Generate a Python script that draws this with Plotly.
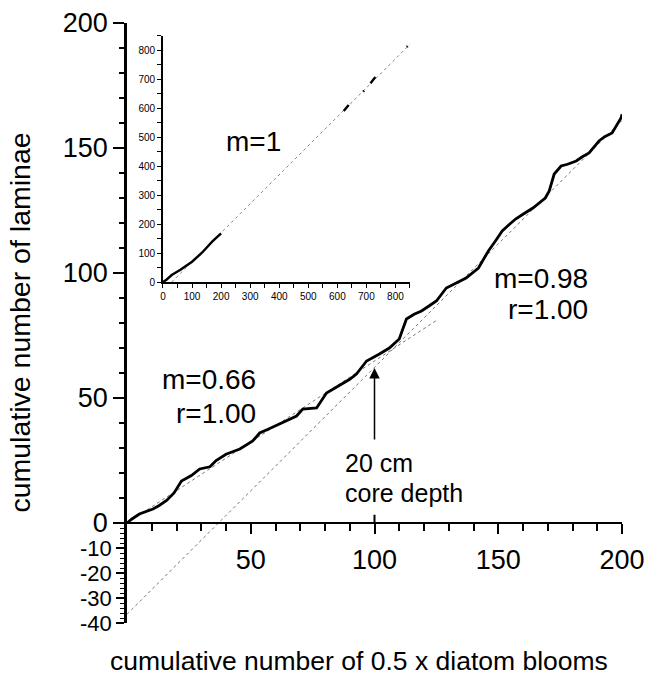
import plotly.graph_objects as go

# ---- main series: cumulative laminae vs cumulative 0.5 x diatom blooms
main_x = [0, 2, 5, 8, 10.5, 13, 16, 19, 22, 26, 29.4, 33.5, 36, 40, 45.6, 50.8, 53.6, 57,
          61.7, 65, 68.5, 71, 76.6, 80.6, 84, 87, 90, 92.7, 96.8, 102, 106, 110, 112.9,
          116, 119, 122, 125, 129, 133, 137, 142, 146, 149, 151.6, 154, 157, 160, 164,
          169, 170.6, 172.6, 175.4, 178, 181.5, 184, 186.7, 190.7, 193, 196, 197.6, 199.6, 200]
main_y = [0, 1.6, 3.6, 4.8, 5.6, 7.0, 9.0, 12.0, 16.8, 19.0, 21.6, 22.5, 25.0, 27.5, 29.6,
          32.8, 36.0, 37.5, 39.6, 41.0, 42.8, 45.6, 46.0, 52.0, 54.0, 56.0, 57.5, 59.6, 64.8,
          67.6, 70.0, 73.6, 81.6, 83.5, 84.8, 86.8, 88.8, 94.0, 96.0, 98.0, 102.0, 108.8,
          113.0, 116.8, 119.0, 121.6, 123.5, 126.0, 130.0, 132.8, 139.6, 142.8, 143.5, 144.8,
          146.5, 148.0, 152.8, 154.5, 156.0, 158.8, 162.0, 163.5]

# regression lines
fit1_x = [0, 125]
fit1_y = [0, 81]
fit2_x = [0, 200]
fit2_y = [-36.5, 161]

# ---- inset series
inset_x = [0, 12, 30, 60, 100, 135, 170, 200, None, 622, 639, None, 689, 692, None, 714, 731, None, 839, 842]
inset_y = [0, 8, 24, 42, 70, 102, 140, 168, None, 590, 611, None, 657, 660, None, 686, 707, None, 811, 814]
inset_fit_x = [30, 850]
inset_fit_y = [0, 820]

# ---- tick labels
main_xticks = [50, 100, 150, 200]
main_xminor = [10, 20, 30, 40, 60, 70, 80, 90, 110, 120, 130, 140, 160, 170, 180, 190]
main_yticks = [0, 50, 100, 150, 200]
main_yminor = [v for v in range(10, 200, 10) if v % 50 != 0]
neg_yticks = [-10, -20, -30, -40]
neg_yminor = [v for v in range(-38, 0, 2) if v % 10 != 0]
inset_ticks = [0, 100, 200, 300, 400, 500, 600, 700, 800]
inset_minor = [50, 150, 250, 350, 450, 550, 650, 750, 850]

FONT = "Liberation Sans, Arial, sans-serif"

fig = go.Figure()
fig.add_trace(go.Scatter(x=fit1_x, y=fit1_y, mode="lines",
                         line=dict(color="#777777", width=1, dash="dot"),
                         xaxis="x", yaxis="y", hoverinfo="skip"))
fig.add_trace(go.Scatter(x=fit2_x, y=fit2_y, mode="lines",
                         line=dict(color="#777777", width=1, dash="dot"),
                         xaxis="x", yaxis="y", hoverinfo="skip"))
fig.add_trace(go.Scatter(x=main_x, y=main_y, mode="lines",
                         line=dict(color="black", width=2.8),
                         xaxis="x", yaxis="y"))
fig.add_trace(go.Scatter(x=inset_fit_x, y=inset_fit_y, mode="lines",
                         line=dict(color="#888888", width=1, dash="dot"),
                         xaxis="x2", yaxis="y2", hoverinfo="skip"))
fig.add_trace(go.Scatter(x=inset_x, y=inset_y, mode="lines",
                         line=dict(color="black", width=2.4),
                         connectgaps=False, xaxis="x2", yaxis="y2"))

axis_common = dict(showgrid=False, zeroline=False, showline=True, linecolor="black",
                   tickcolor="black", ticks="outside", automargin=False)

fig.update_layout(
    template="none",
    width=650, height=677,
    margin=dict(l=127, r=28, t=23, b=54, pad=0, autoexpand=False),
    paper_bgcolor="white", plot_bgcolor="white",
    showlegend=False,
    font=dict(family=FONT, color="black"),
    xaxis=dict(**axis_common, domain=[0, 1], range=[0, 200], anchor="free", position=40 / 240,
               linewidth=2, tickwidth=2, ticklen=10, tickmode="array", tickvals=main_xticks,
               ticktext=[str(v) for v in main_xticks], tickfont=dict(size=27),
               ticklabelstandoff=3,
               minor=dict(tickmode="array", tickvals=main_xminor, ticklen=7, tickwidth=1.5,
                          tickcolor="black", ticks="outside")),
    yaxis=dict(**axis_common, domain=[0, 1], range=[-40, 200], anchor="x",
               linewidth=2.5, tickwidth=2, ticklen=11, tickmode="array", tickvals=main_yticks,
               ticktext=[str(v) for v in main_yticks], tickfont=dict(size=27),
               minor=dict(tickmode="array", tickvals=main_yminor, ticklen=5, tickwidth=1.5,
                          tickcolor="black", ticks="outside")),
    yaxis3=dict(**axis_common, domain=[0, 1], range=[-40, 200], anchor="x", overlaying="y",
                linewidth=2.5, tickwidth=1.5, ticklen=8, tickmode="array", tickvals=neg_yticks,
                ticktext=[str(v) for v in neg_yticks], tickfont=dict(size=22),
                minor=dict(tickmode="array", tickvals=neg_yminor, ticklen=4, tickwidth=1.2,
                           tickcolor="black", ticks="outside")),
    xaxis2=dict(**axis_common, domain=[0.0727, 0.5717], range=[0, 850], anchor="y2",
                linewidth=1.6, tickwidth=1.3, ticklen=4, tickmode="array", tickvals=inset_ticks,
                ticktext=[str(v) for v in inset_ticks], tickfont=dict(size=10),
                minor=dict(tickmode="array", tickvals=inset_minor, ticklen=4, tickwidth=1.3,
                           tickcolor="black", ticks="outside")),
    yaxis2=dict(**axis_common, domain=[0.5683, 0.979], range=[0, 850], anchor="x2",
                linewidth=1.6, tickwidth=1.3, ticklen=4, tickmode="array", tickvals=inset_ticks,
                ticktext=[str(v) for v in inset_ticks], tickfont=dict(size=10),
                minor=dict(tickmode="array", tickvals=inset_minor, ticklen=4, tickwidth=1.3,
                           tickcolor="black", ticks="outside")),
)

# invisible trace so the overlay y-axis with the negative labels is drawn
fig.add_trace(go.Scatter(x=[None], y=[None], xaxis="x", yaxis="y3", mode="lines",
                         hoverinfo="skip", showlegend=False))

big = dict(family=FONT, size=28, color="black")
ann = [
    dict(text="m=0.66", x=52.9, y=57.6, xref="x", yref="y", xanchor="right", yanchor="middle",
         showarrow=False, font=big),
    dict(text="r=1.00", x=52.9, y=44, xref="x", yref="y", xanchor="right", yanchor="middle",
         showarrow=False, font=big),
    dict(text="m=0.98", x=187.1, y=98, xref="x", yref="y", xanchor="right", yanchor="middle",
         showarrow=False, font=big),
    dict(text="r=1.00", x=187.1, y=85.6, xref="x", yref="y", xanchor="right", yanchor="middle",
         showarrow=False, font=big),
    dict(text="m=1", x=310, y=485, xref="x2", yref="y2", xanchor="center", yanchor="middle",
         showarrow=False, font=big),
    dict(text="20 cm", x=87.3, y=24, xref="x", yref="y", xanchor="left", yanchor="middle",
         showarrow=False, font=dict(family=FONT, size=25, color="black")),
    dict(text="core depth", x=87.3, y=12, xref="x", yref="y", xanchor="left", yanchor="middle",
         showarrow=False, font=dict(family=FONT, size=25, color="black")),
    dict(text="", x=100, y=62, xref="x", yref="y", ax=100, ay=32.8, axref="x", ayref="y",
         showarrow=True, arrowhead=2, arrowsize=1.4, arrowwidth=1.5, arrowcolor="black"),
    dict(text="cumulative number of 0.5 x diatom blooms", x=0.4677, y=-0.063,
         xref="paper", yref="paper", xanchor="center", yanchor="middle", showarrow=False,
         font=dict(family=FONT, size=26.5, color="black")),
    dict(text="cumulative number of laminae", x=-0.217, y=0.5, xref="paper", yref="paper",
         xanchor="center", yanchor="middle", textangle=-90, showarrow=False,
         font=dict(family=FONT, size=28.5, color="black")),
]
fig.update_layout(annotations=ann)

# small marker tick at x=100 crossing the axis
fig.add_shape(type="line", x0=100, x1=100, y0=0, y1=3.3, xref="x", yref="y",
              line=dict(color="black", width=2))

fig.write_html("out.html", config={"displayModeBar": False},
               post_script="document.body.style.margin='0';document.body.style.padding='0';")
